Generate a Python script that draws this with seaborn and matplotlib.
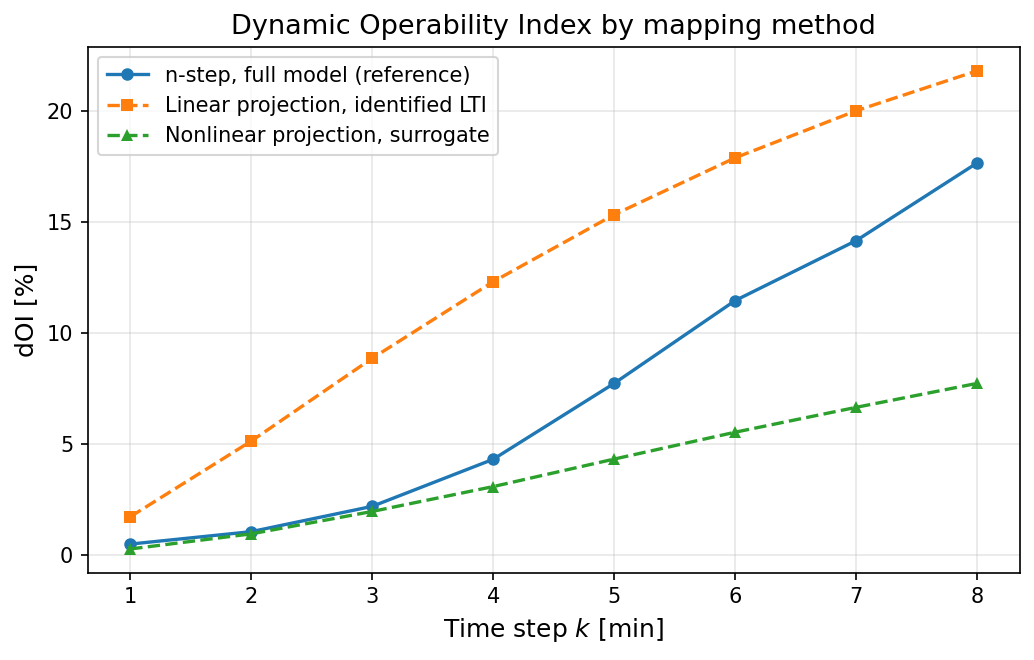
import matplotlib
matplotlib.use("Agg")
import matplotlib.pyplot as plt
import pandas as pd
import seaborn as sns

# Data
steps = [1, 2, 3, 4, 5, 6, 7, 8]
nstep_full = [0.48, 1.04, 2.18, 4.30, 7.72, 11.45, 14.15, 17.65]
linear_lti = [1.71, 5.12, 8.85, 12.30, 15.32, 17.88, 20.0, 21.80]
nonlinear_sur = [0.26, 0.94, 1.95, 3.07, 4.31, 5.52, 6.64, 7.72]

labels = ["n-step, full model (reference)",
          "Linear projection, identified LTI",
          "Nonlinear projection, surrogate"]

df = pd.DataFrame({
    "k": steps * 3,
    "dOI": nstep_full + linear_lti + nonlinear_sur,
    "method": [labels[0]] * 8 + [labels[1]] * 8 + [labels[2]] * 8,
})

fig, ax = plt.subplots(figsize=(1034 / 150, 660 / 150), dpi=150)

colors = ["#1f77b4", "#ff7f0e", "#2ca02c"]
markers = ["o", "s", "^"]
dashes = ["-", "--", "--"]
for lab, c, m, ls in zip(labels, colors, markers, dashes):
    sub = df[df["method"] == lab]
    sns.lineplot(data=sub, x="k", y="dOI", ax=ax, color=c, marker=m,
                 linestyle=ls, markersize=6, markeredgewidth=0,
                 linewidth=1.6, label=lab)

ax.set_title("Dynamic Operability Index by mapping method", fontsize=13)
ax.set_xlabel("Time step $k$ [min]", fontsize=12)
ax.set_ylabel("dOI [%]", fontsize=12)
ax.set_xticks(steps)
ax.grid(True, alpha=0.3)
ax.legend(loc="upper left", fontsize=10)

fig.subplots_adjust(left=0.085, right=0.986, top=0.929, bottom=0.132)
fig.savefig("out.png", dpi=150)
plt.close(fig)
